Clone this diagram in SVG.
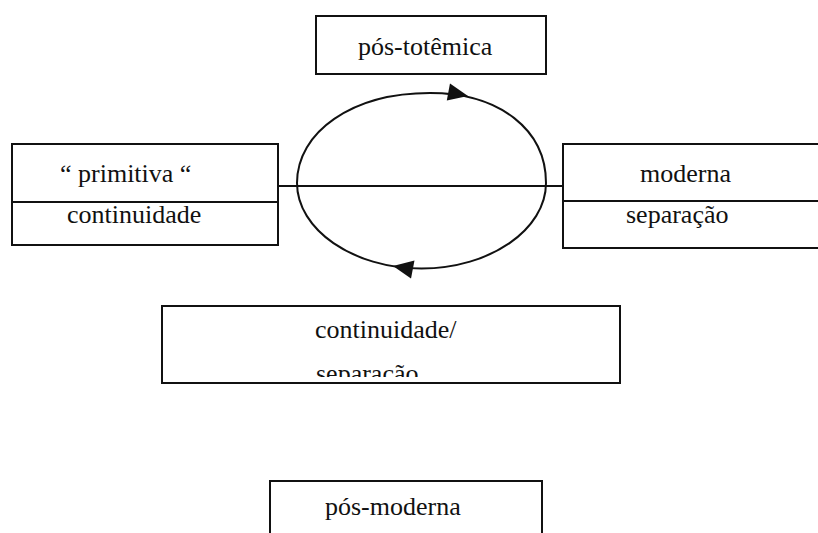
<svg xmlns="http://www.w3.org/2000/svg" width="818" height="533" viewBox="0 0 818 533">
<style>
.box{fill:none;stroke:#111;stroke-width:2}
.ln{fill:none;stroke:#111;stroke-width:2}
.t{font-family:"Liberation Serif","Times New Roman",serif;font-size:26px;fill:#111}
.ah{fill:#111}
</style>
<defs>
<clipPath id="clipSep"><rect x="162" y="306" width="458" height="71"/></clipPath>
</defs>
<rect width="818" height="533" fill="#fff"/>
<g id="connectors">
<path class="ln" d="M297,183 C297,132 352,93 430,93 C500,93 546,130 546,183 C546,229.3 490.3,268.5 421.5,268.5 C352.7,268.5 297,229.3 297,183 Z"/>
<line class="ln" x1="278" y1="186" x2="563" y2="186"/>
<polygon class="ah" points="468,96 446.8,100.5 450,83.5"/>
<polygon class="ah" points="393,266 414.5,260.5 411,278.5"/>
</g>
<g id="node-pos-totemica">
<rect class="box" x="316" y="16" width="230" height="58"/>
<text class="t" x="358" y="55">pós-totêmica</text>
</g>
<g id="node-primitiva">
<rect class="box" x="12" y="144" width="266" height="101"/>
<line class="ln" x1="12" y1="202" x2="278" y2="202"/>
<text class="t" x="60" y="182">“ primitiva “</text>
<text class="t" x="67" y="223">continuidade</text>
</g>
<g id="node-moderna">
<rect class="box" x="563" y="144" width="270" height="104"/>
<line class="ln" x1="563" y1="201" x2="833" y2="201"/>
<text class="t" x="640" y="182">moderna</text>
<text class="t" x="626" y="223">separação</text>
</g>
<g id="node-continuidade-separacao">
<rect class="box" x="162" y="306" width="458" height="77"/>
<text class="t" x="315" y="338">continuidade/</text>
<text class="t" x="316" y="382" clip-path="url(#clipSep)">separação</text>
</g>
<g id="node-pos-moderna">
<rect class="box" x="270" y="481" width="272" height="70"/>
<text class="t" x="325" y="515">pós-moderna</text>
</g>
</svg>
